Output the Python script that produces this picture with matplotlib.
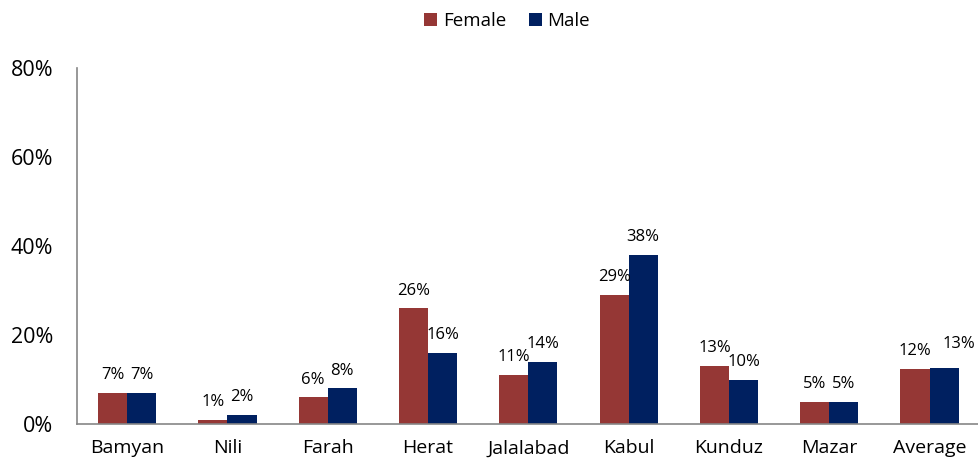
import matplotlib.pyplot as plt
import numpy as np

cities = ['Bamyan', 'Nili', 'Farah', 'Herat', 'Jalalabad', 'Kabul', 'Kunduz', 'Mazar', 'Average']
female = [7, 1, 6, 26, 11, 29, 13, 5, 12.4]
male = [7, 2, 8, 16, 14, 38, 10, 5, 12.5]
female_labels = ['7%', '1%', '6%', '26%', '11%', '29%', '13%', '5%', '12%']
male_labels = ['7%', '2%', '8%', '16%', '14%', '38%', '10%', '5%', '13%']
yticks = [0, 20, 40, 60, 80]

plt.rcParams['font.family'] = ['Open Sans', 'DejaVu Sans']

fig = plt.figure(figsize=(9.79, 4.66), dpi=100)
ax = fig.add_axes([0.0787, 0.0901, 0.922, 0.764])

x = np.arange(len(cities))
w = 0.29
b1 = ax.bar(x - w / 2, female, w, color='#953735', label='Female')
b2 = ax.bar(x + w / 2, male, w, color='#002060', label='Male')

for bars, labs, is_male in [(b1, female_labels, False), (b2, male_labels, True)]:
    for i, (bar, lab) in enumerate(zip(bars, labs)):
        off = (0, 7)
        # the last male label is nudged aside so it doesn't collide (as in the original)
        if is_male and i == len(labs) - 1:
            off = (11, 12)
        ax.annotate(lab, (bar.get_x() + bar.get_width() / 2, bar.get_height()),
                    xytext=off, textcoords='offset points',
                    ha='center', va='bottom', fontsize=12)

ax.set_xlim(-0.5, len(cities) - 0.5)
ax.set_ylim(0, 80)
ax.set_yticks(yticks)
ax.set_yticklabels([f'{t}%' for t in yticks], fontsize=15.5)
ax.set_xticks(x)
ax.set_xticklabels(cities, fontsize=14)
ax.tick_params(length=0)
ax.tick_params(axis='y', pad=17)
ax.tick_params(axis='x', pad=11)
for s in ['top', 'right']:
    ax.spines[s].set_visible(False)
for s in ['left', 'bottom']:
    ax.spines[s].set_color('#868686')
    ax.spines[s].set_linewidth(1.2)

fig.legend(loc='upper center', bbox_to_anchor=(0.518, 1.01), ncol=2, frameon=False,
           fontsize=13.5, handlelength=0.7, handleheight=0.7, columnspacing=1.2, handletextpad=0.3)

fig.savefig('out.png', dpi=100)
